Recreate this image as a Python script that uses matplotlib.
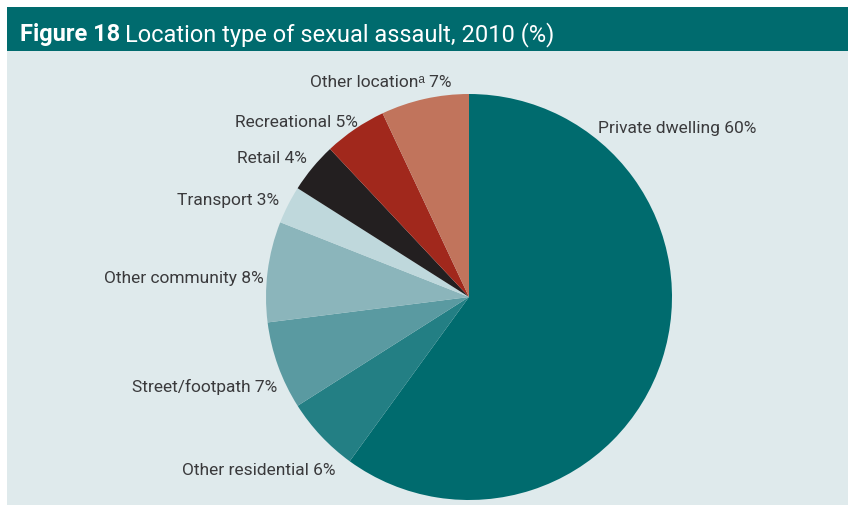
import matplotlib
matplotlib.use("Agg")
import matplotlib.pyplot as plt
from matplotlib.patches import Rectangle

# ---- data ----
categories = ["Private dwelling", "Other residential", "Street/footpath", "Other community",
              "Transport", "Retail", "Recreational", "Other location"]
values = [60, 6, 7, 8, 3, 4, 5, 7]
colors = ["#006B6E", "#237F84", "#5A9AA1", "#8BB5BB", "#BFD8DC", "#231F20", "#A1281C", "#C1745C"]
label_texts = ["Private dwelling 60%", "Other residential 6%", "Street/footpath 7%",
               "Other community 8%", "Transport 3%", "Retail 4%", "Recreational 5%",
               "Other location\u1d43 7%"]

FONT = ["Roboto", "Liberation Sans", "DejaVu Sans"]
W, H = 848, 506
fig = plt.figure(figsize=(W / 100, H / 100), dpi=100)
fig.patch.set_facecolor("white")

# background axes in pixel coordinates (top-left origin)
bg = fig.add_axes([0, 0, 1, 1])
bg.set_xlim(0, W)
bg.set_ylim(H, 0)
bg.axis("off")
bg.add_patch(Rectangle((7, 52), W - 7, H - 52, facecolor="#DFEAEC", edgecolor="none"))
bg.add_patch(Rectangle((7, 8), W - 7, 44, facecolor="#006B6E", edgecolor="none"))
t1 = bg.text(20, 41, "Figure 18", color="white", fontsize=17, fontweight="bold",
             family=FONT, ha="left", va="baseline")
fig.canvas.draw()
bb = t1.get_window_extent()
x_end = bb.x1  # display pixels (same as data x here)
bg.text(x_end + 5, 41, "Location type of sexual assault, 2010 (%)", color="white",
        fontsize=17, family=FONT, ha="left", va="baseline")

# pie axes: center (469, 298) px, radius 203 px
cx, cy, r = 469, 298, 203
ax = fig.add_axes([(cx - r) / W, (H - cy - r) / H, 2 * r / W, 2 * r / H])
ax.pie(values, colors=colors, startangle=90, counterclock=False, radius=1,
       wedgeprops=dict(linewidth=0, antialiased=True))
ax.set_xlim(-1, 1)
ax.set_ylim(-1, 1)
ax.set_aspect("equal")
ax.axis("off")

# label anchor points in pixel coords: (x, baseline y, ha)
label_pos = [(598, 133, "left"), (335, 475, "right"), (277, 392, "right"),
             (264, 283, "right"), (279, 205, "right"), (307, 163, "right"),
             (358, 127, "right"), (452, 87, "right")]
for txt, (px, py, ha) in zip(label_texts, label_pos):
    bg.text(px, py, txt, fontsize=12.5, color="#3A3A3C", family=FONT, ha=ha, va="baseline")

fig.savefig("out.png", dpi=100, facecolor="white")
